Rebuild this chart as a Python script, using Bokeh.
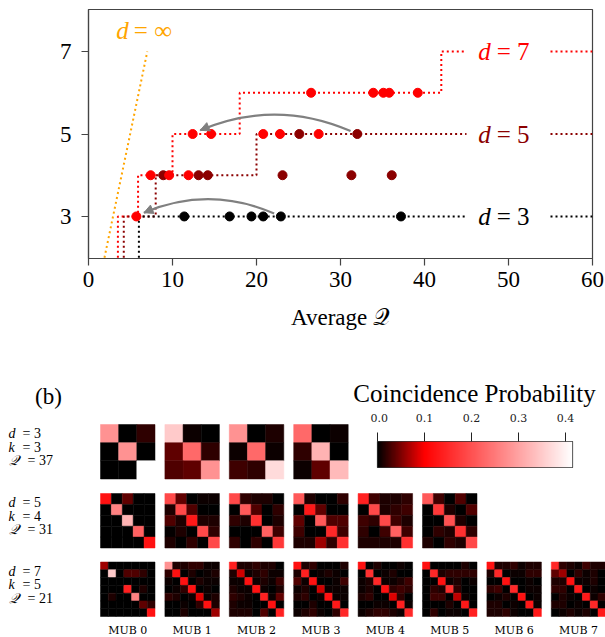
import numpy as np
from bokeh.plotting import figure
from bokeh.models import (Range1d, FixedTicker, Label, ColumnDataSource, LinearColorMapper,
                          Arrow, NormalHead, PrintfTickFormatter)
from bokeh.layouts import column, row
from bokeh.transform import transform
from bokeh.core.properties import value
from bokeh.embed import file_html
from bokeh.resources import INLINE

SERIF = "Liberation Serif"

# ---------------- panel (a) data ----------------
q_ticks = [0, 10, 20, 30, 40, 50, 60]
k_ticks = [3, 5, 7]

d3_q = [11.4, 16.8, 19.4, 20.8, 22.9, 37.2]
d3_k = [3, 3, 3, 3, 3, 3]
d5_q = [8.9, 13.1, 14.2, 23.1, 31.3, 36.1, 25.1, 32.0]
d5_k = [4, 4, 4, 4, 4, 4, 5, 5]
d7_q = [5.7, 7.4, 9.6, 11.9, 12.4, 14.6, 20.8, 22.8, 27.4, 26.5, 33.9, 35.1, 35.8, 39.2]
d7_k = [3, 4, 4, 4, 5, 5, 5, 5, 5, 6, 6, 6, 6, 6]

# Q thresholds where the best k steps up (starting from k = 2)
thr_d3 = [6.0]
thr_d5 = [4.2, 8.0, 20.0]
thr_d7 = [3.5, 5.9, 10.0, 18.0, 42.0]

dinf_q = [1.9, 7.0]
dinf_k = [2.0, 7.0]

arrow_from_q = [22.9, 32.0]
arrow_from_k = [3, 5]
arrow_to_q = [5.7, 12.4]
arrow_to_k = [3, 5]

series_names = ["3", "5", "7"]
series_colors = ["#000000", "#8b0000", "#ff0000"]

# ---------------- panel (b) data ----------------
row_d = [3, 5, 7]
row_k = [3, 4, 5]
row_Q = [37, 31, 21]
mub_names = ["MUB 0", "MUB 1", "MUB 2", "MUB 3", "MUB 4", "MUB 5", "MUB 6", "MUB 7"]
cb_ticks = [0.0, 0.1, 0.2, 0.3, 0.4]
cb_high = 0.415

d3_mubs = [
    [[0.28, 0.0, 0.019], [0.0, 0.28, 0.0], [0.0, 0.0, 0.42]],
    [[0.35, 0.006, 0.0], [0.038, 0.23, 0.019], [0.031, 0.038, 0.28]],
    [[0.28, 0.0, 0.012], [0.006, 0.23, 0.006], [0.025, 0.019, 0.37]],
    [[0.23, 0.0, 0.006], [0.019, 0.32, 0.0], [0.006, 0.038, 0.33]],
]

d5_mubs = [
    [[0.12, 0, 0.038, 0, 0], [0, 0.26, 0, 0, 0], [0, 0, 0.32, 0, 0], [0, 0, 0, 0.22, 0], [0, 0, 0, 0, 0.12]],
    [[0.19, 0.038, 0, 0.006, 0.006], [0.012, 0.19, 0.031, 0, 0], [0.031, 0.012, 0.13, 0.012, 0.012],
     [0.003, 0.012, 0, 0.19, 0.019], [0.012, 0, 0.019, 0, 0.19]],
    [[0.19, 0.019, 0.012, 0.012, 0], [0, 0.21, 0.031, 0, 0.019], [0.019, 0.012, 0.16, 0, 0.012],
     [0, 0, 0, 0.22, 0.025], [0.019, 0, 0.019, 0, 0.17]],
    [[0.21, 0.012, 0, 0, 0.019], [0, 0.13, 0.038, 0, 0], [0.038, 0, 0.21, 0.031, 0.031],
     [0.025, 0, 0, 0.15, 0.025], [0.012, 0.012, 0.063, 0.019, 0.16]],
    [[0.14, 0.025, 0.012, 0.012, 0.019], [0, 0.19, 0.012, 0.019, 0.025], [0.025, 0.019, 0.19, 0.025, 0.012],
     [0.019, 0, 0.025, 0.22, 0.025], [0.012, 0.012, 0.012, 0.012, 0.16]],
    [[0.21, 0.025, 0, 0.031, 0], [0, 0.17, 0.012, 0, 0.031], [0, 0, 0.2, 0.012, 0],
     [0, 0.019, 0.012, 0.16, 0.019], [0.012, 0, 0.019, 0.012, 0.19]],
]

d7_mubs = [
    [[0.063, 0, 0, 0, 0, 0, 0],
     [0, 0.35, 0, 0.031, 0.031, 0.019, 0],
     [0, 0, 0, 0, 0, 0, 0],
     [0, 0, 0, 0.14, 0, 0.012, 0],
     [0, 0.012, 0, 0, 0.26, 0, 0],
     [0, 0, 0, 0, 0, 0.038, 0.019],
     [0, 0, 0, 0, 0, 0, 0.12]],
    [[0.28, 0.012, 0.012, 0.019, 0.019, 0.006, 0.006],
     [0.019, 0.12, 0, 0.012, 0, 0.006, 0.012],
     [0.006, 0, 0.12, 0, 0.012, 0.006, 0.006],
     [0, 0.006, 0.019, 0.12, 0, 0.006, 0],
     [0.019, 0.012, 0, 0.006, 0.088, 0.006, 0.012],
     [0, 0, 0.006, 0, 0.019, 0.12, 0.012],
     [0, 0, 0.012, 0, 0, 0, 0.063]],
    [[0.14, 0.012, 0.012, 0.019, 0.012, 0.012, 0],
     [0.012, 0.082, 0.006, 0.012, 0.019, 0.006, 0.006],
     [0.006, 0.006, 0.12, 0.006, 0.012, 0.006, 0.025],
     [0.012, 0.006, 0.006, 0.12, 0.006, 0, 0.012],
     [0.019, 0.012, 0.006, 0, 0.14, 0.006, 0.038],
     [0.012, 0.006, 0.006, 0, 0, 0.12, 0],
     [0.012, 0.012, 0.012, 0, 0.031, 0, 0.14]],
    [[0.12, 0.012, 0.019, 0, 0, 0, 0.012],
     [0.012, 0.14, 0, 0.006, 0.012, 0.006, 0],
     [0.031, 0.006, 0.12, 0, 0, 0.006, 0.025],
     [0.006, 0.012, 0, 0.082, 0.006, 0.006, 0.006],
     [0.012, 0.019, 0, 0.006, 0.12, 0.006, 0.006],
     [0, 0, 0.012, 0, 0, 0.13, 0],
     [0.006, 0.012, 0.019, 0.006, 0, 0.019, 0.15]],
    [[0.12, 0, 0.012, 0, 0, 0.006, 0],
     [0, 0.16, 0, 0.006, 0.012, 0, 0],
     [0.006, 0.012, 0.15, 0.006, 0.006, 0.012, 0.025],
     [0.006, 0.012, 0, 0.12, 0.019, 0.025, 0.019],
     [0.012, 0.019, 0, 0, 0.088, 0.019, 0],
     [0, 0, 0.006, 0.006, 0, 0.14, 0.006],
     [0.006, 0.012, 0.019, 0.019, 0.012, 0.006, 0.15]],
    [[0.12, 0, 0, 0, 0, 0.012, 0],
     [0, 0.15, 0.012, 0.019, 0.019, 0.019, 0.019],
     [0, 0, 0.12, 0.006, 0.012, 0, 0.006],
     [0, 0.019, 0.012, 0.16, 0.019, 0, 0],
     [0, 0.025, 0.025, 0, 0.075, 0.006, 0],
     [0, 0, 0, 0.012, 0, 0.13, 0],
     [0, 0.019, 0, 0.006, 0.006, 0, 0.14]],
    [[0.12, 0.012, 0.012, 0.019, 0.006, 0.012, 0.012],
     [0.012, 0.15, 0, 0.006, 0.006, 0.019, 0.019],
     [0, 0, 0.12, 0, 0, 0.006, 0],
     [0.019, 0.025, 0, 0.15, 0, 0.006, 0.006],
     [0, 0.006, 0.012, 0, 0.12, 0, 0.006],
     [0.012, 0.012, 0, 0.006, 0, 0.13, 0.006],
     [0.012, 0.012, 0.019, 0.006, 0, 0, 0.13]],
    [[0.15, 0.019, 0.012, 0.006, 0.025, 0.012, 0.012],
     [0.038, 0.063, 0, 0.019, 0.006, 0.012, 0],
     [0.012, 0.012, 0.12, 0.006, 0.006, 0.012, 0],
     [0.019, 0.019, 0, 0.13, 0, 0.006, 0],
     [0, 0.012, 0.006, 0, 0.13, 0.006, 0.019],
     [0.012, 0.012, 0, 0.006, 0, 0.15, 0],
     [0, 0.006, 0.012, 0.006, 0.012, 0, 0.13]],
]

# ---------------- colour map: black -> red (0.1) -> white ----------------
pal = []
for i in range(256):
    v = i / 255 * cb_high
    if v <= 0.1:
        t = v / 0.1
        pal.append("#%02x0000" % int(round(255 * t)))
    else:
        t = (v - 0.1) / (cb_high - 0.1)
        g = int(round(255 * t))
        pal.append("#ff%02x%02x" % (g, g))
mapper = LinearColorMapper(palette=pal, low=0.0, high=cb_high)

# ---------------- figure (a) ----------------
AX = "#444444"
pa = figure(width=605, height=340, x_range=Range1d(0, 60), y_range=Range1d(1.98, 8.02),
            output_backend="svg", toolbar_location=None, frame_align=False,
            min_border_left=88, min_border_right=13, min_border_top=9, min_border_bottom=82)
pa.grid.visible = False
pa.outline_line_color = AX
pa.outline_line_width = 1.2
pa.xaxis.ticker = FixedTicker(ticks=q_ticks)
pa.yaxis.ticker = FixedTicker(ticks=k_ticks)
for ax in (pa.xaxis[0], pa.yaxis[0]):
    ax.major_tick_out = 7
    ax.major_tick_in = 0
    ax.minor_tick_line_color = None
    ax.axis_line_color = AX
    ax.axis_line_width = 1.2
    ax.major_tick_line_color = AX
    ax.major_tick_line_width = 1.2
    ax.major_label_text_font = SERIF
    ax.major_label_text_font_size = "23px"
    ax.major_label_text_color = "black"
pa.xaxis.major_label_standoff = 6
pa.yaxis.major_label_standoff = 10
pa.xaxis.axis_label = "Average 𝒬"
pa.xaxis.axis_label_text_font = SERIF
pa.xaxis.axis_label_text_font_size = "23px"
pa.xaxis.axis_label_text_font_style = "normal"
pa.xaxis.axis_label_text_color = "black"
pa.xaxis.axis_label_standoff = 15

DOT = "2 3"


def step_path(thr, k0=2, q_end=45.0):
    xs, ys = [], []
    for i, q in enumerate(thr):
        xs += [q, q]
        ys += [k0 + i, k0 + i + 1]
    xs.append(q_end)
    ys.append(ys[-1])
    return xs, ys


# orange asymptote
pa.line(dinf_q, dinf_k, line_color="#ffa500", line_width=2, line_dash=DOT)
for thr, col in zip([thr_d7, thr_d5, thr_d3], [series_colors[2], series_colors[1], series_colors[0]]):
    xs, ys = step_path(thr)
    pa.line(xs, ys, line_color=col, line_width=2, line_dash=DOT)
    kf = ys[-1]
    pa.line([55, 60], [kf, kf], line_color=col, line_width=2, line_dash=DOT)

# curved arrows
ax0 = [q - 0.8 for q in arrow_from_q]
ay0 = [k + 0.07 for k in arrow_from_k]
ax1 = [q + 0.9 for q in arrow_to_q]
ay1 = [k + 0.09 for k in arrow_to_k]
acx = [(a + b) / 2 for a, b in zip(ax0, ax1)]
acy = [max(a, b) + 0.043 * (x0 - x1) for a, b, x0, x1 in zip(ay0, ay1, ax0, ax1)]
pa.quadratic(x0=ax0, y0=ay0, x1=ax1, y1=ay1, cx=acx, cy=acy, line_color="#808080", line_width=2.2)
for x1, y1, cx, cy in zip(ax1, ay1, acx, acy):
    pa.add_layout(Arrow(end=NormalHead(size=9, fill_color="#808080", line_color="#808080"),
                        x_start=cx, y_start=cy, x_end=x1, y_end=y1, line_alpha=0))

pa.scatter(d3_q, d3_k, size=9, color=series_colors[0])
pa.scatter(d5_q, d5_k, size=9, color=series_colors[1])
pa.scatter(d7_q, d7_k, size=9, color=series_colors[2])

# d = ... labels
lab_k = [3, 5, 7]
pa.text(x=[46.4] * 3, y=lab_k, text=["d"] * 3, text_color=series_colors,
        text_font=value(SERIF), text_font_size=value("25px"), text_font_style="italic",
        text_baseline="middle", text_align="left")
pa.text(x=[48.6] * 3, y=lab_k, text=["= " + s for s in series_names], text_color=series_colors,
        text_font=value(SERIF), text_font_size=value("25px"),
        text_baseline="middle", text_align="left")
pa.text(x=[3.3], y=[7.52], text=["d"], text_color="#ffa500",
        text_font=value(SERIF), text_font_size=value("25px"), text_font_style="italic",
        text_baseline="middle", text_align="left")
pa.text(x=[5.4], y=[7.52], text=["= ∞"], text_color="#ffa500",
        text_font=value(SERIF), text_font_size=value("25px"),
        text_baseline="middle", text_align="left")

pa.add_layout(Label(x=-9.5, y=7.56, text="(a)", text_font=SERIF, text_font_size="24px",
                    text_baseline="middle", text_align="left"))
pa.add_layout(Label(x=-6.8, y=5.22, text="k", text_font=SERIF, text_font_size="25px",
                    text_font_style="italic", text_baseline="middle", text_align="center"))


# ---------------- panel (b) ----------------
def canvas(w, h, x0, y0):
    p = figure(width=w, height=h, x_range=Range1d(x0, x0 + w), y_range=Range1d(y0 + h, y0),
               x_axis_type=None, y_axis_type=None, output_backend="svg", toolbar_location=None,
               min_border=0, frame_align=False)
    p.outline_line_color = None
    p.grid.visible = False
    return p


PANEL_X0 = 100.0
PANEL_STEP = 64.4
PANEL = 54.5
ROW_TOP = [424.0, 493.0, 561.5]


def draw_mats(p, mats, y0):
    xs, ys, ws, vs = [], [], [], []
    for m_i, M in enumerate(mats):
        M = np.asarray(M, dtype=float)
        d = M.shape[0]
        cs = PANEL / d
        x0 = PANEL_X0 + m_i * PANEL_STEP
        for r in range(d):
            for c in range(d):
                xs.append(x0 + (c + 0.5) * cs)
                ys.append(y0 + (r + 0.5) * cs)
                ws.append(cs)
                vs.append(M[r, c])
    src = ColumnDataSource(dict(x=xs, y=ys, w=ws, v=vs))
    p.rect("x", "y", "w", "w", source=src, fill_color=transform("v", mapper),
           line_color=transform("v", mapper), line_width=0.5)


def draw_row_label(p, i):
    y0 = ROW_TOP[i] + 9
    ys = [y0, y0 + 13.5, y0 + 27]
    p.text(x=[8, 8, 8], y=ys, text=["d", "k", "𝒬"], text_font=value(SERIF),
           text_font_size=value("14px"), text_font_style="italic",
           text_baseline="middle", text_align="left")
    p.text(x=[22, 22, 27], y=ys, text=["= %d" % row_d[i], "= %d" % row_k[i], "= %d" % row_Q[i]],
           text_font=value(SERIF), text_font_size=value("14px"),
           text_baseline="middle", text_align="left")


# strip with "(b)" and the colour-bar title
ptop = canvas(605, 69, 0, 340)
ptop.text(x=[48], y=[396], text=["(b)"], text_font=value(SERIF), text_font_size=value("23px"),
          text_baseline="middle", text_align="center")
ptop.text(x=[474], y=[393], text=["Coincidence Probability"], text_font=value(SERIF),
          text_font_size=value("25px"), text_baseline="middle", text_align="center")

# first row of matrices
pb1 = canvas(370, 73, 0, 409)
draw_mats(pb1, d3_mubs, ROW_TOP[0])
draw_row_label(pb1, 0)

# colour bar
pcb = figure(width=235, height=73, x_range=Range1d(0, cb_high), y_range=Range1d(0, 1),
             x_axis_location="above", y_axis_type=None, output_backend="svg", toolbar_location=None,
             frame_align=False,
             min_border_left=7, min_border_right=33, min_border_top=32, min_border_bottom=15)
pcb.grid.visible = False
cb_vals = np.linspace(0, cb_high, 256)
pcb.image(image=[cb_vals[None, :]], x=0, y=0, dw=cb_high, dh=1, color_mapper=mapper)
pcb.outline_line_color = "#333333"
pcb.outline_line_width = 1.2
cax = pcb.xaxis[0]
cax.ticker = FixedTicker(ticks=cb_ticks)
cax.formatter = PrintfTickFormatter(format="%.1f")
cax.axis_line_color = None
cax.major_tick_in = 0
cax.major_tick_out = 9
cax.major_tick_line_color = "#222222"
cax.minor_tick_line_color = None
cax.major_label_text_font = "DejaVu Serif"
cax.major_label_text_font_size = "11px"
cax.major_label_text_color = "#222222"
cax.major_label_standoff = 11

# rows 2 and 3
pb2 = canvas(605, 155, 0, 482)
draw_mats(pb2, d5_mubs, ROW_TOP[1])
draw_mats(pb2, d7_mubs, ROW_TOP[2])
draw_row_label(pb2, 1)
draw_row_label(pb2, 2)
pb2.text(x=[PANEL_X0 + i * PANEL_STEP + PANEL / 2 for i in range(len(mub_names))],
         y=[630] * len(mub_names), text=mub_names, text_font=value("DejaVu Serif"),
         text_font_size=value("11px"), text_baseline="middle", text_align="center")

layout = column(pa, ptop, row(pb1, pcb), pb2)
open("out.html", "w").write(file_html(layout, INLINE))
